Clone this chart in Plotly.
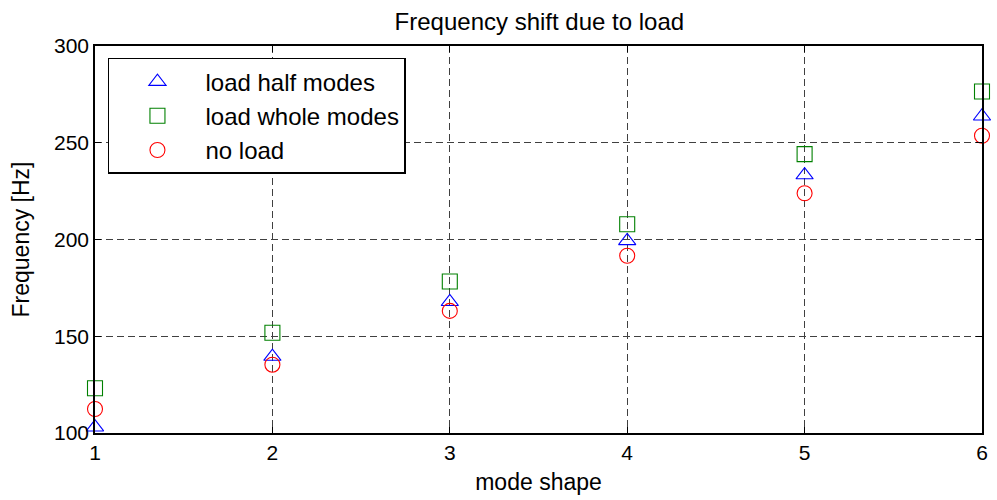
import plotly.graph_objects as go

modes = [1, 2, 3, 4, 5, 6]
load_half = [103, 139.5, 167.8, 199.3, 233.3, 263.7]
load_whole = [123.1, 151.8, 178.3, 207.9, 244.1, 276.5]
no_load = [112.4, 135.3, 163.1, 191.6, 223.9, 253.6]

x_ticks = [1, 2, 3, 4, 5, 6]
y_ticks = [100, 150, 200, 250, 300]

FONT = "Liberation Sans, Arial, Helvetica, sans-serif"

fig = go.Figure()
series = [
    ("load half modes", load_half, "triangle-up-open", "#0000ff"),
    ("load whole modes", load_whole, "square-open", "#008000"),
    ("no load", no_load, "circle-open", "#ff0000"),
]
for i, (name, vals, sym, col) in enumerate(series):
    fig.add_trace(go.Scatter(
        x=modes, y=vals, mode="markers", name=name,
        legendgroup=f"g{i}",
        marker=dict(symbol=sym, size=15, color=col, line=dict(width=1.1, color=col)),
        cliponaxis=False,
    ))

axis_common = dict(
    showline=True, linecolor="black", linewidth=1.5, mirror="ticks",
    ticks="inside", ticklen=6, tickcolor="black", tickwidth=1,
    showgrid=True, gridcolor="#404040", griddash="7px,4px", gridwidth=1,
    zeroline=False, tickfont=dict(family=FONT, size=21, color="black"),
    title_font=dict(family=FONT, size=23, color="black"),
)

fig.update_xaxes(range=[1, 6], tickvals=x_ticks, title_text="mode shape",
                 title_standoff=11, **axis_common)
fig.update_yaxes(range=[100, 300], tickvals=y_ticks, title_text="Frequency [Hz]",
                 title_standoff=18, **axis_common)

fig.update_layout(
    width=997, height=500,
    margin=dict(l=95, r=9, t=46, b=67),
    paper_bgcolor="white", plot_bgcolor="white",
    title=dict(text="Frequency shift due to load", x=0.541, xanchor="center",
               y=0.956, yanchor="middle",
               font=dict(family=FONT, size=24, color="black")),
    legend=dict(x=0.0146, y=0.969, xanchor="left", yanchor="top",
                bgcolor="white", bordercolor="black", borderwidth=1.5,
                font=dict(family=FONT, size=24, color="black"),
                tracegroupgap=0, itemwidth=86),
    showlegend=True,
)

fig.write_html("out.html", config={"displayModeBar": False},
               post_script="document.body.style.margin='0px';")
